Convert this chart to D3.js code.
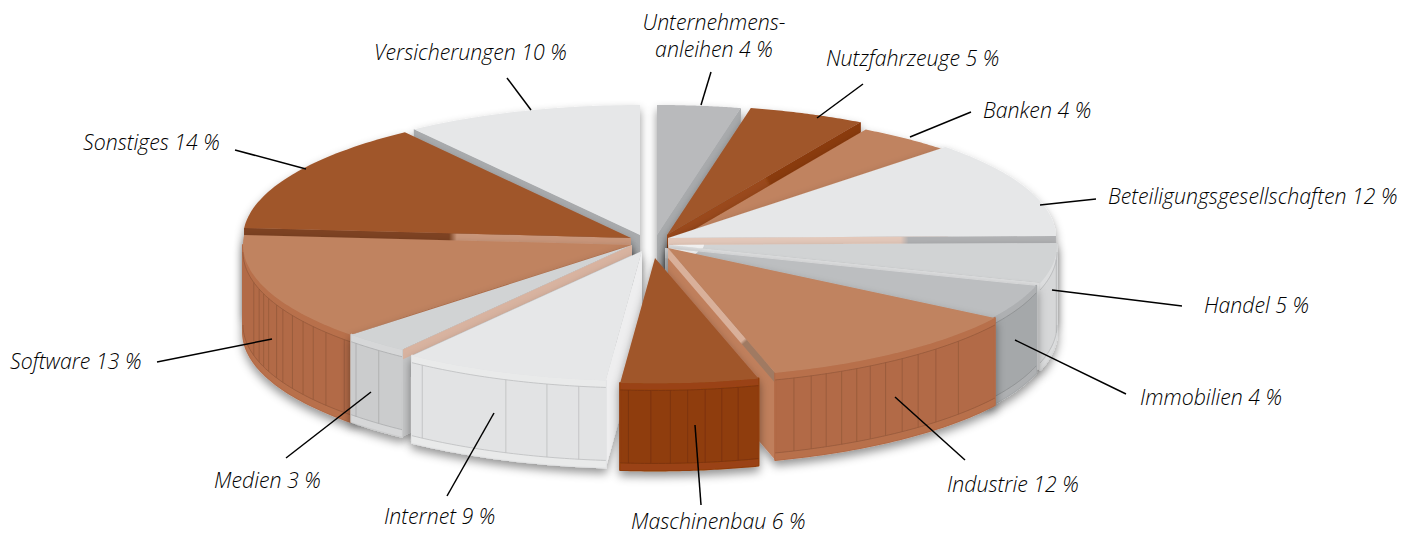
<!DOCTYPE html>
<html>
<head>
<meta charset="utf-8">
<script src="https://cdnjs.cloudflare.com/ajax/libs/d3/7.8.5/d3.min.js"></script>
<style>
    html, body { margin: 0; padding: 0; background: #fff; }
    text { font-family: "Open Sans", sans-serif; font-style: italic; font-weight: 300; font-size: 21.3px; fill: #000; }
</style>
</head>
<body>
<svg id="pie" width="1416" height="535"></svg>
<script>
// data, clockwise from 12 o'clock. Slice sizes as measured, the printed labels are rounded
const categories = ["Unternehmens-anleihen", "Nutzfahrzeuge", "Banken", "Beteiligungsgesellschaften", "Handel", "Immobilien", "Industrie", "Maschinenbau", "Internet", "Medien", "Software", "Sonstiges", "Versicherungen"]
const shares = [3.5, 4.9, 4.4, 12.2, 5, 4.4, 11.6, 6, 8.7, 2.8, 13.5, 14, 10]

// look of each slice
const topColors  = ["#b9babc", "#a0562c", "#c08360", "#e6e7e8", "#d1d3d4", "#bcbec0", "#c08360", "#a0562c", "#e6e7e8", "#d1d3d4", "#c08360", "#a0562c", "#e6e7e8"]
const wallColors = ["#a9abad", "#8f3c0c", "#b26a46", "#d8d9da", "#d6d7d8", "#a5a8aa", "#b26a46", "#8f3c0c", "#e2e3e4", "#cbcccd", "#b26a46", "#8f3c0c", "#a9abad"]
const rimColors  = ["#a9abad", "#9a4312", "#b8704c", "#d8d9da", "#dcddde", "#aeb0b2", "#b8704c", "#9a4312", "#e9eaea", "#d6d7d8", "#b8704c", "#9a4312", "#a9abad"]
// cut faces: body colour, then the bevel along the top, near the centre and out at the rim
const faceBase = ["#a9abad", "#8f3c0c", "#b26a46", "#d8d9da", "#dcddde", "#bcbec0", "#c07f5c", "#8f3c0c", "#eeeeef", "#c4c5c6", "#ad6038", "#8f3c0c", "#a9abad"]
const cutNear  = ["#a9abad", "#9a4a1a", "#ad6a48", "#e3c8ba", "#dcddde", "#c6c8ca", "#d9b09a", "#8f3c0c", "#eeeeef", "#d8b3a0", "#ad6038", "#c9967a", "#a9abad"]
const cutFar   = ["#a9abad", "#8a3a0a", "#ad6a48", "#b0b1b3", "#dcddde", "#c6c8ca", "#a07a62", "#8f3c0c", "#eeeeef", "#d8b3a0", "#ad6038", "#7d4323", "#a9abad"]
const cutStop  = [0.5, 0.5, 0.5, 0.6, 0.5, 0.5, 0.72, 0.5, 0.5, 0.5, 0.5, 0.45, 0.5]
// ribs on the outer wall, as a fraction of the visible wall
const ribSpots = [[], [], [], [], [0.2], [],
    [0.216, 0.332, 0.417, 0.49, 0.563, 0.628, 0.684, 0.745, 0.806, 0.864, 0.93],
    [0.15, 0.27, 0.39, 0.516, 0.64, 0.78, 0.94],
    [0.13, 0.285, 0.49, 0.94],
    [0.44, 0.9],
    [0.03, 0.126, 0.198, 0.26, 0.33, 0.4, 0.45, 0.52, 0.57, 0.62, 0.69],
    [], []]
// pale tip at the apex
const tipLength = [0, 0, 0, 0, 0.09, 0.09, 0, 0, 0, 0, 0, 0, 0]

// how far each slice is pulled out of the middle, and its radius
const explodeX = [7, 17, 26, 18, 19, 15, 18, 5, -8, -18, -19, -19, -10]
const explodeY = [-5, -5, 0, -2, 5, 8, 8, 18, 11, 5, 5, -2, -5]
const radiusFactor = [1, 1, 0.98, 1, 1, 1, 1, 0.965, 1, 1, 1, 1, 1]

// annotations
const labelLines = [["Unternehmens-", "anleihen 4 %"], ["Nutzfahrzeuge 5 %"], ["Banken 4 %"], ["Beteiligungsgesellschaften 12 %"], ["Handel 5 %"], ["Immobilien 4 %"], ["Industrie 12 %"], ["Maschinenbau 6 %"], ["Internet 9 %"], ["Medien 3 %"], ["Software 13 %"], ["Sonstiges 14 %"], ["Versicherungen 10 %"]]
const labelX = [714, 826, 983, 1108, 1204, 1140, 947, 631, 384, 214, 10, 83, 374]
const labelY = [30, 66, 118, 204, 313, 405, 492, 529, 524, 488, 369, 150, 60]
const leaders = [[711, 72, 701, 105], [863, 84, 817, 118], [971, 112, 910, 137], [1096, 199, 1040, 205], [1182, 306, 1052, 290], [1126, 394, 1015, 340], [965, 460, 895, 397], [701, 505, 695, 425], [447, 496, 494, 413], [286, 458, 371, 392], [157, 362, 272, 339], [235, 150, 306, 169], [507, 78, 531, 110]]

const center = {x: 650, y: 240}
const radiusX = 388
const radiusY = 130
const depth = 87
const rimH = 7
const bevelH = 10

var svg = d3.select("#pie")
var defs = svg.append("defs")

var soft = defs.append("filter")
    .attr("id", "soft")
    .attr("x", "-20%").attr("y", "-20%")
    .attr("width", "140%").attr("height", "140%")
soft.append("feDropShadow")
    .attr("dx", 0).attr("dy", 5)
    .attr("stdDeviation", 5)
    .attr("flood-color", "#000")
    .attr("flood-opacity", 0.42)

// unit circle to screen, relative to the slice apex
var xScale = d3.scaleLinear().domain([-1, 1]).range([-radiusX, radiusX])
var yScale = d3.scaleLinear().domain([-1, 1]).range([-radiusY, radiusY])

const slices = d3.pie().sort(null).value(d => d)(shares).map((d, i) => ({
    index: i,
    start: d.startAngle,
    end: d.endAngle,
    mid: (d.startAngle + d.endAngle) / 2,
    ax: center.x + explodeX[i],
    ay: center.y + explodeY[i],
    r: radiusFactor[i]
}))

const rimPoint = (s, a, dy) => [s.ax + xScale(s.r * Math.sin(a)), s.ay + yScale(-s.r * Math.cos(a)) + dy]
const arcPoints = (s, a0, a1, dy) => d3.range(0, 41).map(k => rimPoint(s, a0 + (a1 - a0) * k / 40, dy))
const lineGen = d3.line()
const closed = pts => lineGen(pts) + "Z"

// back to front
const order = slices.slice().sort((a, b) => (-Math.cos(a.mid)) - (-Math.cos(b.mid)))

order.forEach(s => {
    var i = s.index
    var g = svg.append("g").attr("filter", "url(#soft)")

    // cut faces that look towards the viewer
    var faces = []
    if (Math.sin(s.start) < 0) faces.push(s.start)
    if (Math.sin(s.end) > 0) faces.push(s.end)
    faces.forEach((a, k) => {
        var corner = rimPoint(s, a, 0)
        var grad = defs.append("linearGradient")
            .attr("id", `cut-${i}-${k}`)
            .attr("gradientUnits", "userSpaceOnUse")
            .attr("x1", s.ax).attr("y1", s.ay)
            .attr("x2", corner[0]).attr("y2", corner[1])
        grad.append("stop").attr("offset", cutStop[i]).attr("stop-color", cutNear[i])
        grad.append("stop").attr("offset", cutStop[i] + 0.02).attr("stop-color", cutFar[i])
        g.append("path")
            .attr("d", closed([[s.ax, s.ay], corner, [corner[0], corner[1] + depth], [s.ax, s.ay + depth]]))
            .attr("fill", faceBase[i])
        g.append("path")
            .attr("d", closed([[s.ax, s.ay], corner, [corner[0], corner[1] + bevelH], [s.ax, s.ay + bevelH]]))
            .attr("fill", `url(#cut-${i}-${k})`)
    })

    // outer wall, only the front half of the ellipse shows it
    var a0 = Math.max(s.start, Math.PI / 2)
    var a1 = Math.min(s.end, Math.PI * 1.5)
    if (a1 > a0) {
        g.append("path")
            .attr("d", closed(arcPoints(s, a0, a1, 0).concat(arcPoints(s, a1, a0, depth))))
            .attr("fill", wallColors[i])
            .attr("stroke", wallColors[i])
            .attr("stroke-width", 2)
            .attr("stroke-linejoin", "round")
        g.append("path")
            .attr("d", closed(arcPoints(s, a0, a1, 0).concat(arcPoints(s, a1, a0, rimH))))
            .attr("fill", rimColors[i])
        g.append("path")
            .attr("d", closed(arcPoints(s, a0, a1, depth - rimH).concat(arcPoints(s, a1, a0, depth))))
            .attr("fill", rimColors[i])

        // seam lines along the rim
        ;[rimH, depth - rimH].forEach(dy => {
            g.append("path")
                .attr("d", lineGen(arcPoints(s, a0, a1, dy)))
                .attr("fill", "none")
                .attr("stroke", d3.color(wallColors[i]).darker(0.5))
                .attr("stroke-width", 0.8)
        })

        // thin vertical ribs
        ribSpots[i].forEach(f => {
            var p = rimPoint(s, a0 + (a1 - a0) * f, 0)
            g.append("line")
                .attr("x1", p[0]).attr("y1", p[1] + rimH)
                .attr("x2", p[0]).attr("y2", p[1] + depth - rimH)
                .attr("stroke", d3.color(wallColors[i]).darker(0.5))
                .attr("stroke-width", 0.8)
        })
    }

    // top surface
    g.append("path")
        .attr("d", closed([[s.ax, s.ay]].concat(arcPoints(s, s.start, s.end, 0))))
        .attr("fill", topColors[i])

    if (tipLength[i] > 0) {
        var inner = {ax: s.ax, ay: s.ay, r: s.r * tipLength[i]}
        g.append("path")
            .attr("d", closed([[s.ax, s.ay]].concat(arcPoints(inner, s.start, s.end, 0))))
            .attr("fill", "#f1f1f1")
    }
})

// leader lines
svg.selectAll(".leader")
    .data(leaders)
    .join("line")
    .attr("class", "leader")
    .attr("x1", d => d[0])
    .attr("y1", d => d[1])
    .attr("x2", d => d[2])
    .attr("y2", d => d[3])
    .attr("stroke", "#000")
    .attr("stroke-width", 1.5)

// labels
labelLines.forEach((lines, i) => {
    var text = svg.append("text")
        .attr("x", labelX[i])
        .attr("y", labelY[i])
        .attr("text-anchor", lines.length > 1 ? "middle" : "start")
    lines.forEach((t, k) => {
        text.append("tspan")
            .attr("x", labelX[i])
            .attr("dy", k ? 27 : 0)
            .text(t)
    })
})
</script>
</body>
</html>
